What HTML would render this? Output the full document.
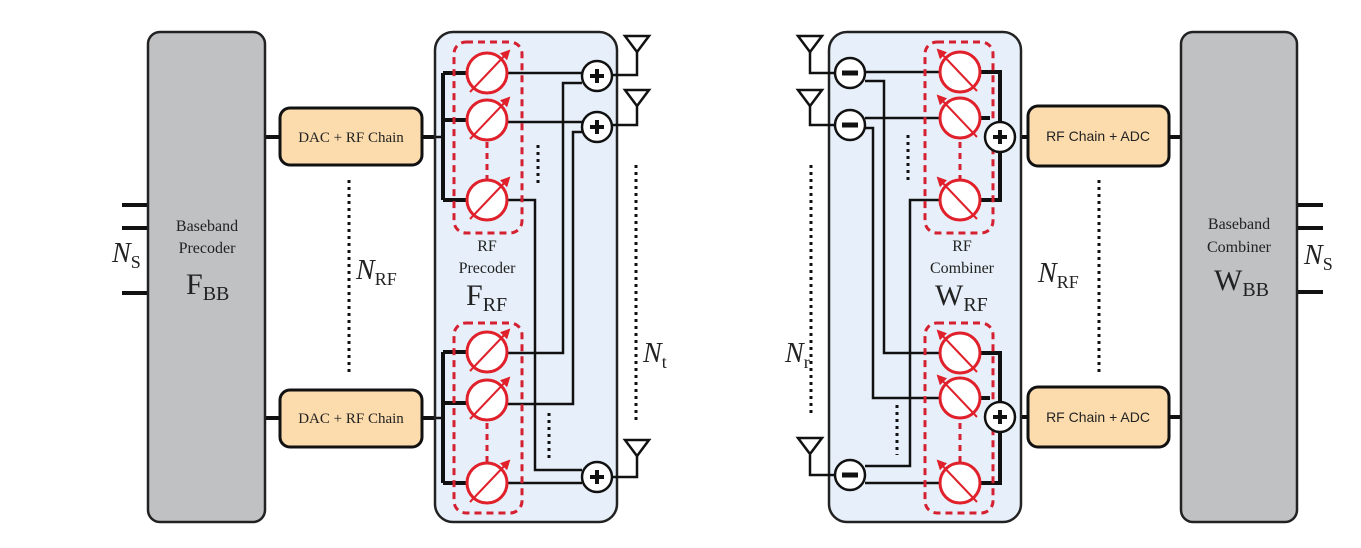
<!DOCTYPE html>
<html><head><meta charset="utf-8"><style>
html,body{margin:0;padding:0;background:#fff;}
svg{display:block;}
text{font-family:"Liberation Serif",serif;fill:#222;}
</style></head><body>
<svg width="1361" height="548" viewBox="0 0 1361 548" xmlns="http://www.w3.org/2000/svg">
<defs>
<marker id="ah" markerWidth="5" markerHeight="5" refX="4" refY="2.5" orient="auto" markerUnits="strokeWidth">
<path d="M0,0 L5,2.5 L0,5 z" fill="#e0202a"/></marker>
<g id="psR">
<circle cx="0" cy="0" r="20" fill="#fff" stroke="#e0202a" stroke-width="3"/>
<line x1="-17" y1="19" x2="22" y2="-22" stroke="#e0202a" stroke-width="2" marker-end="url(#ah)"/>
</g>
<g id="psL">
<circle cx="0" cy="0" r="20" fill="#fff" stroke="#e0202a" stroke-width="3"/>
<line x1="17" y1="19" x2="-22" y2="-22" stroke="#e0202a" stroke-width="2" marker-end="url(#ah)"/>
</g>
<g id="plus">
<circle cx="0" cy="0" r="15" fill="#fff" stroke="#111" stroke-width="2.5"/>
<path d="M-7,0 H7 M0,-7 V7" stroke="#111" stroke-width="4"/>
</g>
<g id="minus">
<circle cx="0" cy="0" r="15" fill="#fff" stroke="#111" stroke-width="2.5"/>
<path d="M-8,0 H8" stroke="#111" stroke-width="5"/>
</g>
<g id="ant">
<path d="M-12,0 H12 L0,16 z" fill="#fff" stroke="#111" stroke-width="2.5"/>
</g>
</defs>

<g stroke="#111" stroke-width="4">
<line x1="122" y1="205" x2="148" y2="205"/><line x1="122" y1="228" x2="148" y2="228"/><line x1="122" y1="293" x2="148" y2="293"/>
<line x1="1297" y1="205" x2="1323" y2="205"/><line x1="1297" y1="228" x2="1323" y2="228"/><line x1="1297" y1="292" x2="1323" y2="292"/>
<line x1="265" y1="137" x2="280" y2="137"/><line x1="265" y1="418" x2="280" y2="418"/>
<line x1="422" y1="137" x2="436" y2="137"/><line x1="422" y1="418" x2="436" y2="418"/>
<line x1="1015" y1="137" x2="1028" y2="137"/><line x1="1015" y1="417" x2="1028" y2="417"/>
<line x1="1169" y1="137" x2="1182" y2="137"/><line x1="1169" y1="417" x2="1182" y2="417"/>
</g>
<rect x="148" y="32" width="117" height="490" rx="12" fill="#c0c1c3" stroke="#222" stroke-width="2.5"/>
<text x="207" y="231" font-size="16" text-anchor="middle">Baseband</text>
<text x="207" y="253" font-size="16" text-anchor="middle">Precoder</text>
<text x="186" y="294" font-size="30">F<tspan font-size="20" dy="6">BB</tspan></text>
<text x="112" y="262" font-size="28" font-style="italic">N<tspan font-size="18" font-style="normal" dy="6">S</tspan></text>

<rect x="280" y="108" width="142" height="57" rx="10" fill="#fcdcad" stroke="#111" stroke-width="3"/>
<text x="351" y="142" font-size="15" text-anchor="middle">DAC + RF Chain</text>
<rect x="280" y="390" width="142" height="57" rx="10" fill="#fcdcad" stroke="#111" stroke-width="3"/>
<text x="351" y="423" font-size="15" text-anchor="middle">DAC + RF Chain</text>
<line x1="349" y1="180" x2="349" y2="372" stroke="#111" stroke-width="3" stroke-dasharray="3,4"/>
<text x="356" y="279" font-size="28" font-style="italic">N<tspan font-size="18" font-style="normal" dy="6">RF</tspan></text>

<rect x="435" y="32" width="182" height="490" rx="18" fill="#e7f0fa" stroke="#222" stroke-width="2.5"/>
<text x="487" y="251" font-size="16" text-anchor="middle">RF</text>
<text x="487" y="273" font-size="16" text-anchor="middle">Precoder</text>
<text x="466" y="305" font-size="30">F<tspan font-size="20" dy="6">RF</tspan></text>

<g stroke="#111" stroke-width="2.5" fill="none">
<path d="M436,137 H443"/>
<path d="M443,73 V200 M443,73 H466 M443,120 H466 M443,200 H466" stroke-width="4"/>
<path d="M436,418 H443"/>
<path d="M443,352 V483 M443,352 H466 M443,403 H466 M443,483 H466" stroke-width="4"/>
<path d="M507,73 H582"/><path d="M507,122 H582"/>
<path d="M507,200 H535 V470 H582"/>
<path d="M507,483 H582"/>
<path d="M507,353 H563 V83 H582"/>
<path d="M507,404 H573 V132 H582"/>
<path d="M612,75 H637 V50"/><path d="M612,125 H637 V105"/><path d="M612,477 H637 V455"/>
</g>
<rect x="454" y="42" width="68" height="191" rx="12" fill="none" stroke="#d42030" stroke-width="3" stroke-dasharray="7,5"/>
<rect x="454" y="323" width="68" height="190" rx="12" fill="none" stroke="#d42030" stroke-width="3" stroke-dasharray="7,5"/>
<line x1="487" y1="142" x2="487" y2="180" stroke="#d42030" stroke-width="3" stroke-dasharray="6,5"/>
<line x1="487" y1="423" x2="487" y2="462" stroke="#d42030" stroke-width="3" stroke-dasharray="6,5"/>
<use href="#psR" x="487" y="73"/><use href="#psR" x="487" y="120"/><use href="#psR" x="487" y="200"/>
<use href="#psR" x="487" y="352"/><use href="#psR" x="487" y="400"/><use href="#psR" x="487" y="483"/>
<use href="#plus" x="597" y="76"/><use href="#plus" x="597" y="127"/><use href="#plus" x="597" y="477"/>
<use href="#ant" x="637" y="36"/><use href="#ant" x="637" y="90"/><use href="#ant" x="637" y="440"/>
<line x1="538" y1="145" x2="538" y2="185" stroke="#111" stroke-width="3" stroke-dasharray="3,4"/>
<line x1="549" y1="413" x2="549" y2="460" stroke="#111" stroke-width="3" stroke-dasharray="3,4"/>
<line x1="636" y1="165" x2="636" y2="420" stroke="#111" stroke-width="3" stroke-dasharray="3,4"/>
<text x="643" y="362" font-size="28" font-style="italic">N<tspan font-size="18" font-style="normal" dy="6">t</tspan></text>

<rect x="829" y="32" width="192" height="490" rx="18" fill="#e7f0fa" stroke="#222" stroke-width="2.5"/>
<text x="962" y="251" font-size="16" text-anchor="middle">RF</text>
<text x="962" y="273" font-size="16" text-anchor="middle">Combiner</text>
<text x="935" y="305" font-size="30">W<tspan font-size="20" dy="6">RF</tspan></text>
<g stroke="#111" stroke-width="2.5" fill="none">
<path d="M810,50 V73 H835"/><path d="M810,105 V125 H835"/><path d="M810,455 V475 H835"/>
<path d="M865,72 H940"/><path d="M865,118 H940"/>
<path d="M865,81 H884 V353 H940"/>
<path d="M865,128 H873 V398 H940"/>
<path d="M865,466 H910 V200 H940"/>
<path d="M865,483 H940"/>
<path d="M980,72 H1000 V200 H980 M980,118 H990" stroke-width="4"/>
<path d="M980,353 H1000 V483 H980 M980,398 H990" stroke-width="4"/>
</g>
<rect x="925" y="42" width="68" height="191" rx="12" fill="none" stroke="#d42030" stroke-width="3" stroke-dasharray="7,5"/>
<rect x="925" y="323" width="68" height="190" rx="12" fill="none" stroke="#d42030" stroke-width="3" stroke-dasharray="7,5"/>
<line x1="960" y1="142" x2="960" y2="180" stroke="#d42030" stroke-width="3" stroke-dasharray="6,5"/>
<line x1="960" y1="423" x2="960" y2="462" stroke="#d42030" stroke-width="3" stroke-dasharray="6,5"/>
<use href="#psL" x="960" y="72"/><use href="#psL" x="960" y="118"/><use href="#psL" x="960" y="200"/>
<use href="#psL" x="960" y="353"/><use href="#psL" x="960" y="398"/><use href="#psL" x="960" y="483"/>
<use href="#plus" x="1000" y="137"/><use href="#plus" x="1000" y="417"/>
<use href="#minus" x="850" y="73"/><use href="#minus" x="850" y="125"/><use href="#minus" x="850" y="475"/>
<use href="#ant" x="810" y="36"/><use href="#ant" x="810" y="90"/><use href="#ant" x="810" y="438"/>
<line x1="908" y1="135" x2="908" y2="182" stroke="#111" stroke-width="3" stroke-dasharray="3,4"/>
<line x1="897" y1="405" x2="897" y2="455" stroke="#111" stroke-width="3" stroke-dasharray="3,4"/>
<line x1="811" y1="165" x2="811" y2="415" stroke="#111" stroke-width="3" stroke-dasharray="3,4"/>
<text x="785" y="362" font-size="28" font-style="italic">N<tspan font-size="18" font-style="normal" dy="6">r</tspan></text>

<rect x="1028" y="106" width="141" height="60" rx="10" fill="#fcdcad" stroke="#111" stroke-width="3"/>
<text x="1098" y="141" font-size="14" text-anchor="middle" style="font-family:'Liberation Sans',sans-serif">RF Chain + ADC</text>
<rect x="1028" y="387" width="141" height="60" rx="10" fill="#fcdcad" stroke="#111" stroke-width="3"/>
<text x="1098" y="422" font-size="14" text-anchor="middle" style="font-family:'Liberation Sans',sans-serif">RF Chain + ADC</text>
<line x1="1099" y1="180" x2="1099" y2="372" stroke="#111" stroke-width="3" stroke-dasharray="3,4"/>
<text x="1038" y="282" font-size="28" font-style="italic">N<tspan font-size="18" font-style="normal" dy="6">RF</tspan></text>

<rect x="1181" y="32" width="116" height="490" rx="12" fill="#c0c1c3" stroke="#222" stroke-width="2.5"/>
<text x="1239" y="229" font-size="16" text-anchor="middle">Baseband</text>
<text x="1239" y="252" font-size="16" text-anchor="middle">Combiner</text>
<text x="1214" y="290" font-size="30">W<tspan font-size="20" dy="6">BB</tspan></text>
<text x="1304" y="264" font-size="28" font-style="italic">N<tspan font-size="18" font-style="normal" dy="6">S</tspan></text>
</svg>
</body></html>
